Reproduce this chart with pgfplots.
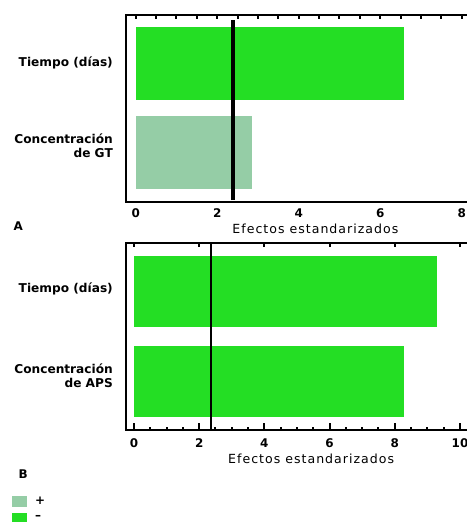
\documentclass[border=0pt]{standalone}
\usepackage{fontspec}
\setmainfont{DejaVu Sans}
\usepackage{pgfplots}
\pgfplotsset{compat=1.18}
\definecolor{brightg}{RGB}{36,222,36}
\definecolor{lightg}{RGB}{149,205,166}
\newcommand{\catfont}{\fontsize{12.2}{14.5}\selectfont\bfseries}
\newcommand{\tickfont}{\fontsize{12}{14}\selectfont\bfseries}
\newcommand{\labfont}{\fontsize{12.6}{15}\selectfont\addfontfeature{LetterSpace=8}}
\pgfplotsset{
  common/.style={
    scale only axis,
    axis line style={line width=2bp},
    /pgf/number format/assume math mode=true,
    xtick style={black, line width=2bp},
    ytick style={draw=none},
    xticklabel style={font=\tickfont, anchor=center},
    yticklabel style={font=\catfont, align=right, anchor=east, inner sep=0pt, xshift=-13bp},
    xlabel style={font=\labfont, anchor=center},
    tick align=inside,
  }
}
\begin{document}
\begin{tikzpicture}[x=1bp,y=1bp]
% ---------- A ----------
\begin{axis}[common,
  at={(126bp,-201.7bp)}, anchor=south west,
  width=376.5bp, height=187.2bp,
  xmin=-0.238, xmax=9, ymin=-0.553, ymax=1.5506,
  xtick={0,0.5,...,8},
  xticklabels={0,,,,2,,,,4,,,,6,,,,8},
  xtick pos=upper, xticklabel pos=lower,
  major tick length=4bp,
  xticklabel style={yshift=-11.3bp},
  ytick={0.073,1.006},
  yticklabels={{Concentración\\de GT},{Tiempo (días)}},
  xlabel={Efectos estandarizados},
  xlabel style={at={(axis description cs:0.503,0)}, yshift=-27.3bp},
]
\addplot[xbar, bar width=72bp, bar shift=0pt, fill=brightg, draw=none, forget plot] coordinates {(6.58,1)};
\addplot[xbar, bar width=73bp, bar shift=0pt, fill=lightg, draw=none, forget plot] coordinates {(2.85,0)};
\addplot[black, line width=4bp, forget plot] coordinates {(2.38,-0.534) (2.38,1.489)};
\end{axis}
% ---------- B ----------
\begin{axis}[common,
  at={(126bp,-430bp)}, anchor=south west,
  width=366.6bp, height=186.7bp,
  xmin=-0.245, xmax=11, ymin=-0.543, ymax=1.534,
  xtick={0,2,...,10},
  xtick pos=both, xticklabel pos=lower,
  major tick length=4bp,
  xticklabel style={yshift=-13bp},
  ytick={0.058,1.026},
  yticklabels={{Concentración\\de APS},{Tiempo (días)}},
  xlabel={Efectos estandarizados},
  xlabel style={at={(axis description cs:0.505,0)}, yshift=-29bp},
  legend style={at={(axis description cs:-0.311,-0.3535)}, anchor=north west,
    draw=none, fill=none, inner sep=0pt, font=\tickfont,
    row sep=6bp, nodes={inner sep=0pt},
    /tikz/every odd column/.append style={column sep=8bp}},
  legend cell align=left,
  legend image code/.code={\fill[#1] (0bp,-5.5bp) rectangle (15bp,5.5bp);},
]
\addplot[xbar, bar width=71bp, bar shift=0pt, fill=brightg, draw=none, forget plot] coordinates {(9.28,1)};
\addplot[xbar, bar width=71bp, bar shift=0pt, fill=brightg, draw=none, forget plot] coordinates {(8.28,0)};
\addplot[black, line width=2bp, forget plot] coordinates {(2.36,-0.543) (2.36,1.534)};
\addlegendimage{fill=lightg, draw=none}
\addlegendentry{+}
\addlegendimage{fill=brightg, draw=none}
\addlegendentry{–}
\end{axis}
% bottom ticks of B (major + minor)
\begin{axis}[
  scale only axis,
  at={(126bp,-430bp)}, anchor=south west,
  width=366.6bp, height=186.7bp,
  xmin=-0.245, xmax=11, ymin=0, ymax=1,
  axis x line*=bottom, axis y line=none,
  axis line style={-, line width=2bp},
  xtick={0,2,...,10}, xticklabels={},
  minor x tick num=3,
  tick align=inside,
  major tick length=7bp, minor tick length=3.5bp,
  xtick style={black, line width=2bp},
]
\end{axis}
\node[font=\tickfont, anchor=west] at (10bp,-226bp) {A};
\node[font=\tickfont, anchor=west] at (15bp,-474bp) {B};
\pgfresetboundingbox
\path[use as bounding box] (0bp,0bp) rectangle (467bp,-522bp);
\end{tikzpicture}
\end{document}
